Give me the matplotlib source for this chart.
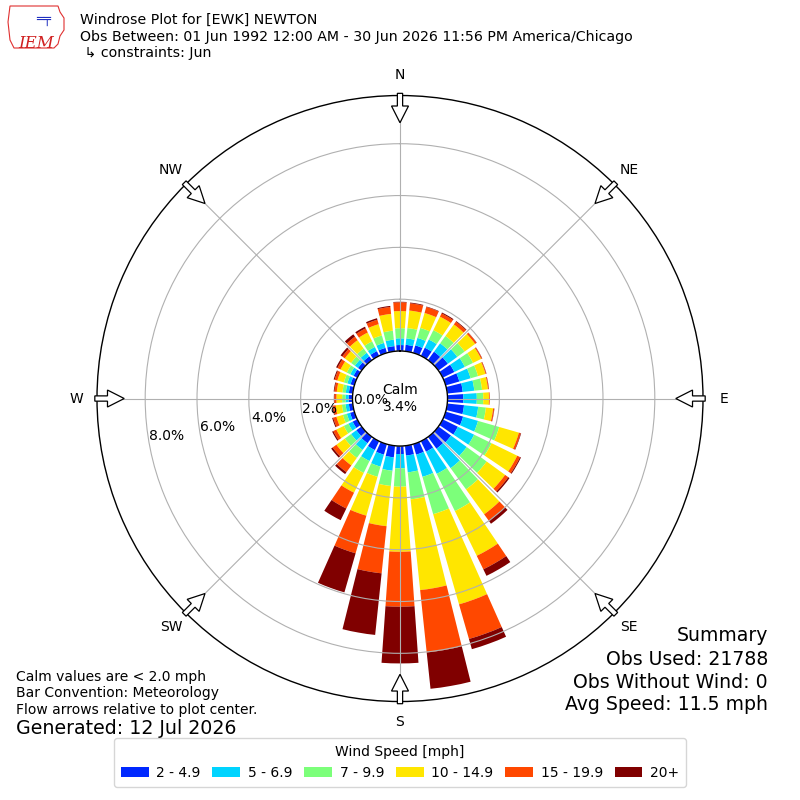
import numpy as np
import matplotlib
matplotlib.use("Agg")
import matplotlib.pyplot as plt
from matplotlib.patches import FancyArrow, Polygon, Patch

# direction of each bar (degrees, meteorological)
directions = np.arange(0, 360, 10)

# frequency (%) per speed bin for each direction
spd_2_5 = [0.23, 0.25, 0.30, 0.35, 0.40, 0.45, 0.50, 0.55, 0.60, 0.61, 0.65, 0.70,
           0.65, 0.60, 0.56, 0.45, 0.42, 0.38, 0.31, 0.45, 0.42, 0.38, 0.30, 0.25,
           0.20, 0.17, 0.15, 0.15, 0.15, 0.15, 0.16, 0.17, 0.18, 0.20, 0.20, 0.20]
spd_5_7 = [0.26, 0.25, 0.30, 0.35, 0.40, 0.45, 0.45, 0.45, 0.45, 0.52, 0.55, 0.60,
           0.70, 0.75, 0.93, 0.95, 0.89, 0.65, 0.55, 0.52, 0.48, 0.47, 0.32, 0.25,
           0.18, 0.13, 0.13, 0.12, 0.12, 0.13, 0.14, 0.15, 0.17, 0.18, 0.20, 0.25]
spd_7_10 = [0.39, 0.40, 0.40, 0.40, 0.35, 0.35, 0.35, 0.30, 0.30, 0.25, 0.30, 0.85,
            0.75, 0.95, 1.01, 1.60, 1.50, 1.05, 0.71, 0.59, 0.41, 0.51, 0.38, 0.30,
            0.20, 0.16, 0.14, 0.13, 0.13, 0.14, 0.15, 0.18, 0.20, 0.24, 0.30, 0.35]
spd_10_15 = [0.66, 0.68, 0.60, 0.58, 0.55, 0.50, 0.35, 0.30, 0.23, 0.22, 0.28, 0.79,
             1.10, 0.88, 1.19, 1.92, 3.62, 3.52, 2.51, 1.56, 1.56, 0.85, 0.36, 0.40,
             0.32, 0.26, 0.24, 0.22, 0.22, 0.26, 0.27, 0.30, 0.40, 0.38, 0.45, 0.65]
spd_15_20 = [0.34, 0.28, 0.24, 0.14, 0.13, 0.07, 0.04, 0.03, 0.03, 0.03, 0.04, 0.07,
             0.12, 0.15, 0.31, 0.58, 1.39, 2.42, 2.12, 1.83, 1.51, 0.68, 0.32, 0.18,
             0.13, 0.13, 0.10, 0.08, 0.09, 0.11, 0.13, 0.12, 0.17, 0.18, 0.18, 0.27]
spd_20 = [0.02, 0.03, 0.02, 0.04, 0.03, 0.01, 0.01, 0.01, 0.01, 0.00, 0.01, 0.02,
          0.04, 0.06, 0.14, 0.28, 0.41, 1.41, 2.19, 2.39, 1.57, 0.50, 0.09, 0.07,
          0.05, 0.04, 0.03, 0.02, 0.03, 0.04, 0.06, 0.08, 0.11, 0.07, 0.06, 0.04]

bin_labels = ["2 - 4.9", "5 - 6.9", "7 - 9.9", "10 - 14.9", "15 - 19.9", "20+"]
bin_colors = ["#0028ff", "#00d4ff", "#7cff7a", "#ffe600", "#ff4800", "#800000"]

calm_pct = 3.4
rticks = [0, 2, 4, 6, 8]
compass = ["N", "NE", "E", "SE", "S", "SW", "W", "NW"]

fig = plt.figure(figsize=(8, 8), dpi=100)
ax = fig.add_axes([0.12125, 0.1231, 0.7575, 0.7575], projection="polar")
ax.set_theta_zero_location("N")
ax.set_theta_direction(-1)

theta = np.deg2rad(directions)
width = np.deg2rad(8.0)
base = np.zeros(len(directions))
for vals, color in zip([spd_2_5, spd_5_7, spd_7_10, spd_10_15, spd_15_20, spd_20], bin_colors):
    ax.bar(theta, vals, width=width, bottom=base, color=color, linewidth=0)
    base = base + np.array(vals)

ax.set_rorigin(-1.834)
ax.set_ylim(0, 9.86)
ax.set_yticks(rticks)
ax.set_yticklabels([f"{v:.1f}%" for v in rticks], fontsize=10)
ax.set_rlabel_position(260)
ax.set_xticks(np.deg2rad(np.arange(0, 360, 45)))
ax.set_xticklabels([])
ax.grid(True, color="#b0b0b0", linewidth=0.8)
ax.spines["polar"].set_linewidth(1.0)
ax.spines["inner"].set_linewidth(1.0)

# direction labels and flow arrows
for i, name in enumerate(compass):
    a = np.deg2rad(i * 45)
    sx, sy = np.sin(a), np.cos(a)
    ax.text(0.5 + 0.534 * sx, 0.5 + 0.534 * sy, name, transform=ax.transAxes,
            ha="center", va="center", fontsize=10)
    r0 = 0.5036
    arr = FancyArrow(0.5 + r0 * sx, 0.5 + r0 * sy, -0.0485 * sx, -0.0485 * sy,
                     width=0.0087, head_width=0.028, head_length=0.0276,
                     length_includes_head=True, transform=ax.transAxes,
                     facecolor="white", edgecolor="black", linewidth=0.9,
                     clip_on=False, zorder=5)
    ax.add_patch(arr)

ax.text(0.5, 0.5, f"Calm\n{calm_pct:.1f}%", transform=ax.transAxes,
        ha="center", va="center", fontsize=10)

# header
fig.text(0.1, 0.975, "Windrose Plot for [EWK] NEWTON", fontsize=10.15, va="center")
fig.text(0.1, 0.954, "Obs Between: 01 Jun 1992 12:00 AM - 30 Jun 2026 11:56 PM America/Chicago",
         fontsize=10.15, va="center")
fig.text(0.1, 0.934, " \u21b3 constraints: Jun", fontsize=10.15, va="center")

# rough IEM logo
logo = Polygon([(10, 6), (58, 6), (60, 12), (64, 18), (64, 30), (60, 36),
                (58, 44), (54, 48), (14, 48), (10, 40), (8, 22)],
               closed=True, fill=False, edgecolor="#e03030", linewidth=0.8,
               transform=None)
logo.set_transform(matplotlib.transforms.Affine2D().scale(1, -1).translate(0, 800))
fig.patches.append(logo)
fig.text(0.0225, 0.945, "IEM", color="#d02020", fontsize=12, style="italic",
         family="DejaVu Serif", va="center")
fig.text(0.045, 0.975, "\u2550\u2564", color="#2030c0", fontsize=9, va="center")

# footer notes
fig.text(0.02, 0.154, "Calm values are < 2.0 mph", fontsize=10, va="center")
fig.text(0.02, 0.134, "Bar Convention: Meteorology", fontsize=10, va="center")
fig.text(0.02, 0.1125, "Flow arrows relative to plot center.", fontsize=10, va="center")
fig.text(0.02, 0.089, "Generated: 12 Jul 2026", fontsize=13.7, va="center")

fig.text(0.96, 0.206, "Summary", fontsize=13.6, ha="right", va="center")
fig.text(0.96, 0.176, "Obs Used: 21788", fontsize=13.6, ha="right", va="center")
fig.text(0.96, 0.1475, "Obs Without Wind: 0", fontsize=13.6, ha="right", va="center")
fig.text(0.96, 0.119, "Avg Speed: 11.5 mph", fontsize=13.6, ha="right", va="center")

handles = [Patch(facecolor=c, edgecolor="none") for c in bin_colors]
fig.legend(handles, bin_labels, loc="lower center", bbox_to_anchor=(0.5, 0.008),
           ncol=6, title="Wind Speed [mph]", fontsize=10, title_fontsize=10,
           columnspacing=0.85, handletextpad=0.55, handlelength=2.0, borderpad=0.5)

fig.savefig("out.png", dpi=100)
